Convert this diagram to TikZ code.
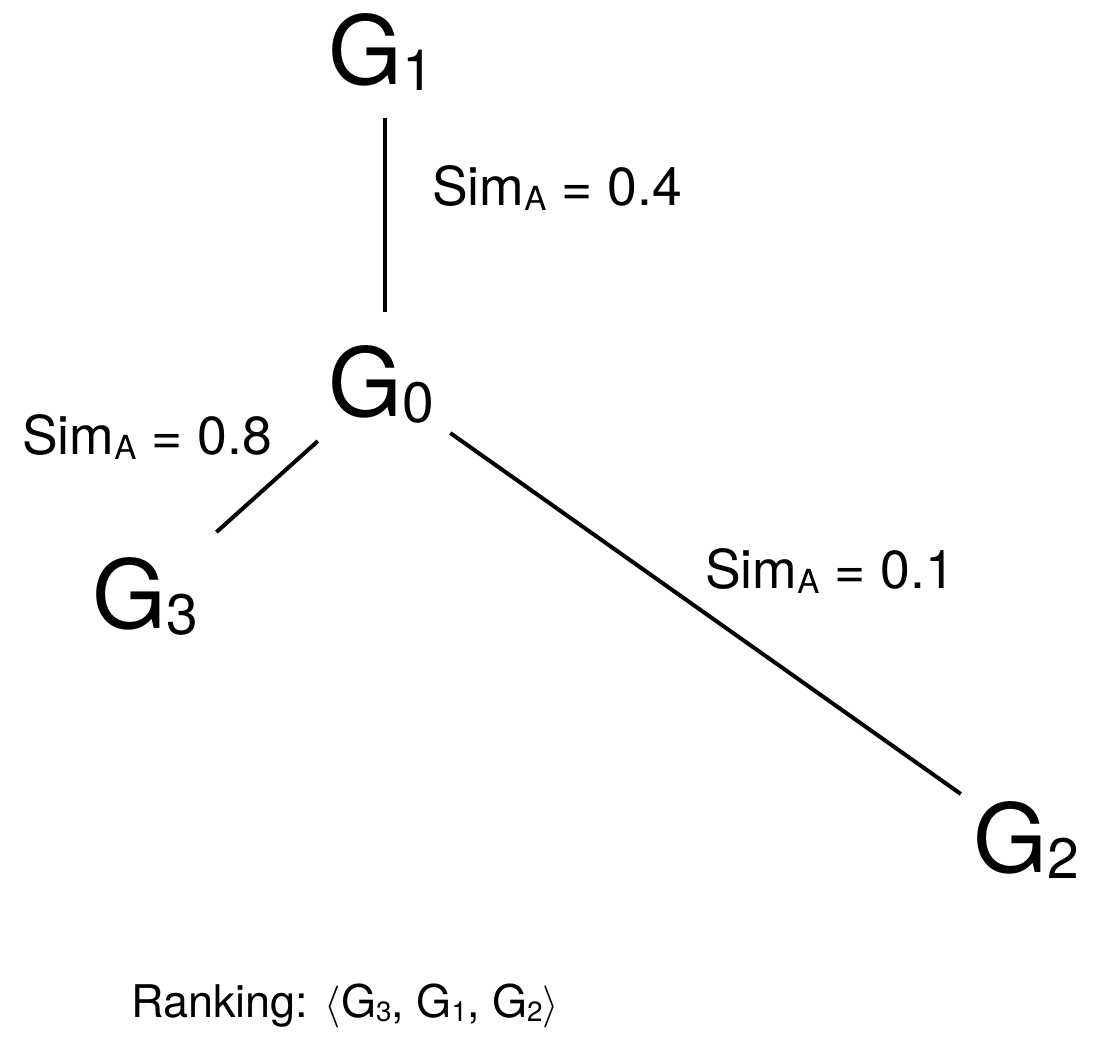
\documentclass[tikz,border=0pt]{standalone}
\usepackage{fontspec}
\setmainfont{TeX Gyre Heros}
\usetikzlibrary{positioning}
\newcommand{\lowsub}[3]{\raisebox{-#2}{\scalebox{#1}{#3}}}
\newcommand{\gsub}[1]{\lowsub{0.6}{0.07em}{#1}}
\newcommand{\rsub}[1]{\lowsub{0.62}{0.1em}{#1}}
\newcommand{\simA}{Sim\lowsub{0.62}{0.1em}{A}}
\newcommand{\openang}{\scalebox{4.2}{\normalsize$\langle$}}
\newcommand{\closeang}{\scalebox{4.2}{\normalsize$\rangle$}}

\begin{document}
\begin{tikzpicture}[x=1pt,y=-1pt,
  gname/.style={font=\fontsize{95}{100}\selectfont,inner sep=0pt,anchor=base west},
  score/.style={font=\fontsize{53.5}{60}\selectfont,inner sep=0pt,anchor=base west},
  link/.style={draw=black,line width=4pt}]
\useasboundingbox (0,0) rectangle (1110,1037);
\node[gname] (g1) at (328,84) {G\gsub{1}};
\node[gname] (g0) at (328,416) {G\gsub{0}};
\node[gname] (g3) at (92,628) {G\gsub{3}};
\node[gname] (g2) at (973,872) {G\gsub{2}};

\node[score] (s1) at (432,205) {\simA{} = 0.4};
\node[score] (s3) at (22,454) {\simA{} = 0.8};
\node[score] (s2) at (705,588) {\simA{} = 0.1};

\draw[link,shorten <=27pt,shorten >=33pt] ([xshift=4pt]g1.south)--([xshift=4pt]g0.north);
\draw[link,shorten <=26pt,shorten >=37pt] (g0)--(g3);
\draw[link,shorten <=20pt,shorten >=15pt] (g0)--(g2);

\node[score,font=\fontsize{45}{52}\selectfont] (rank) at (131,1017)
  {Ranking: \openang G\rsub{3}, G\rsub{1}, G\rsub{2}\closeang};
\end{tikzpicture}
\end{document}
